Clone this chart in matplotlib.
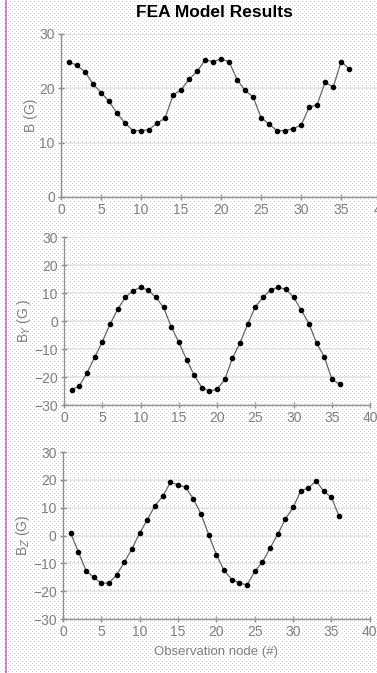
import numpy as np
from matplotlib import pyplot as plt

nodes = list(range(1, 37))

b_total = [24.9, 24.2, 23.0, 20.8, 19.2, 17.6, 15.4, 13.6, 12.2, 12.2, 12.4, 13.6,
           14.5, 18.8, 19.7, 21.7, 23.1, 25.2, 24.9, 25.4, 24.9, 21.6, 19.6, 18.4,
           14.6, 13.4, 12.2, 12.2, 12.6, 13.2, 16.5, 17.0, 21.1, 20.2, 24.9, 23.6]

b_y = [-24.6, -23.1, -18.4, -12.9, -7.3, -1.1, 4.2, 8.5, 10.9, 12.1, 11.0, 8.5,
       4.9, -2.0, -7.6, -13.7, -19.3, -23.7, -25.0, -24.3, -20.8, -13.2, -7.7, -1.0,
       5.2, 8.5, 11.2, 12.1, 11.4, 8.5, 3.9, -0.9, -7.9, -12.7, -20.8, -22.5]

b_z = [0.9, -5.8, -12.6, -15.0, -17.1, -17.1, -14.1, -9.6, -4.7, 0.9, 5.7, 10.8,
       14.1, 19.1, 18.3, 17.3, 13.2, 7.7, 0.3, -6.9, -12.5, -15.8, -17.1, -17.7,
       -12.9, -9.5, -4.5, 0.5, 6.0, 10.1, 16.1, 17.1, 19.7, 15.9, 13.7, 6.9]

x_ticks = [0, 5, 10, 15, 20, 25, 30, 35, 40]
y_ticks_top = [0, 10, 20, 30]
y_ticks_comp = [-30, -20, -10, 0, 10, 20, 30]

plt.rcParams["font.family"] = ["Liberation Sans", "DejaVu Sans"]
gray = "#808080"

fig = plt.figure(figsize=(3.77, 6.73), dpi=100)

# dotted page background, like the scanned original
w, h = 377, 673
bg = np.ones((h, w, 3))
bg[1::4, 2::4] = [0.86, 0.72, 0.88]
bg[3::4, 0::4] = [0.90, 0.84, 0.90]
bg[:, 5:7] = [0.80, 0.50, 0.82]
fig.figimage(bg, xo=0, yo=0, zorder=-10)

panels = [
    ([0.162, 0.7073, 0.849, 0.2422], b_total, "B (G)", y_ticks_top),
    ([0.170, 0.398, 0.812, 0.2496], b_y, "B$_Y$ (G )", y_ticks_comp),
    ([0.167, 0.0802, 0.814, 0.248], b_z, "B$_Z$ (G)", y_ticks_comp),
]

axes = []
for rect, vals, label, yt in panels:
    ax = fig.add_axes(rect)
    ax.patch.set_alpha(0)
    ax.plot(nodes, vals, color="#666666", lw=0.9, zorder=3)
    ax.plot(nodes, vals, "o", color="black", ms=3.0, zorder=4)
    ax.set_xlim(0, 40)
    ax.set_ylim(yt[0], yt[-1])
    ax.set_xticks(x_ticks)
    ax.set_yticks(yt)
    ax.grid(axis="y", color="#e4e4e4", lw=1.2)
    ax.set_axisbelow(True)
    for s in ["top", "right"]:
        ax.spines[s].set_visible(False)
    for s in ["left", "bottom"]:
        ax.spines[s].set_color("#909090")
        ax.spines[s].set_linewidth(1.0)
    ax.tick_params(colors="#909090", labelcolor=gray, labelsize=10,
                   direction="inout", length=5, width=1.0, pad=2)
    ax.set_ylabel(label, color=gray, fontsize=10, labelpad=1)
    axes.append(ax)

axes[2].set_xlabel("Observation node (#)", color=gray, fontsize=9.5, labelpad=5)
fig.text(0.57, 0.982, "FEA Model Results", ha="center", va="center",
         fontsize=12.5, fontweight="bold", color="black")

plt.savefig("out.png", dpi=100)
